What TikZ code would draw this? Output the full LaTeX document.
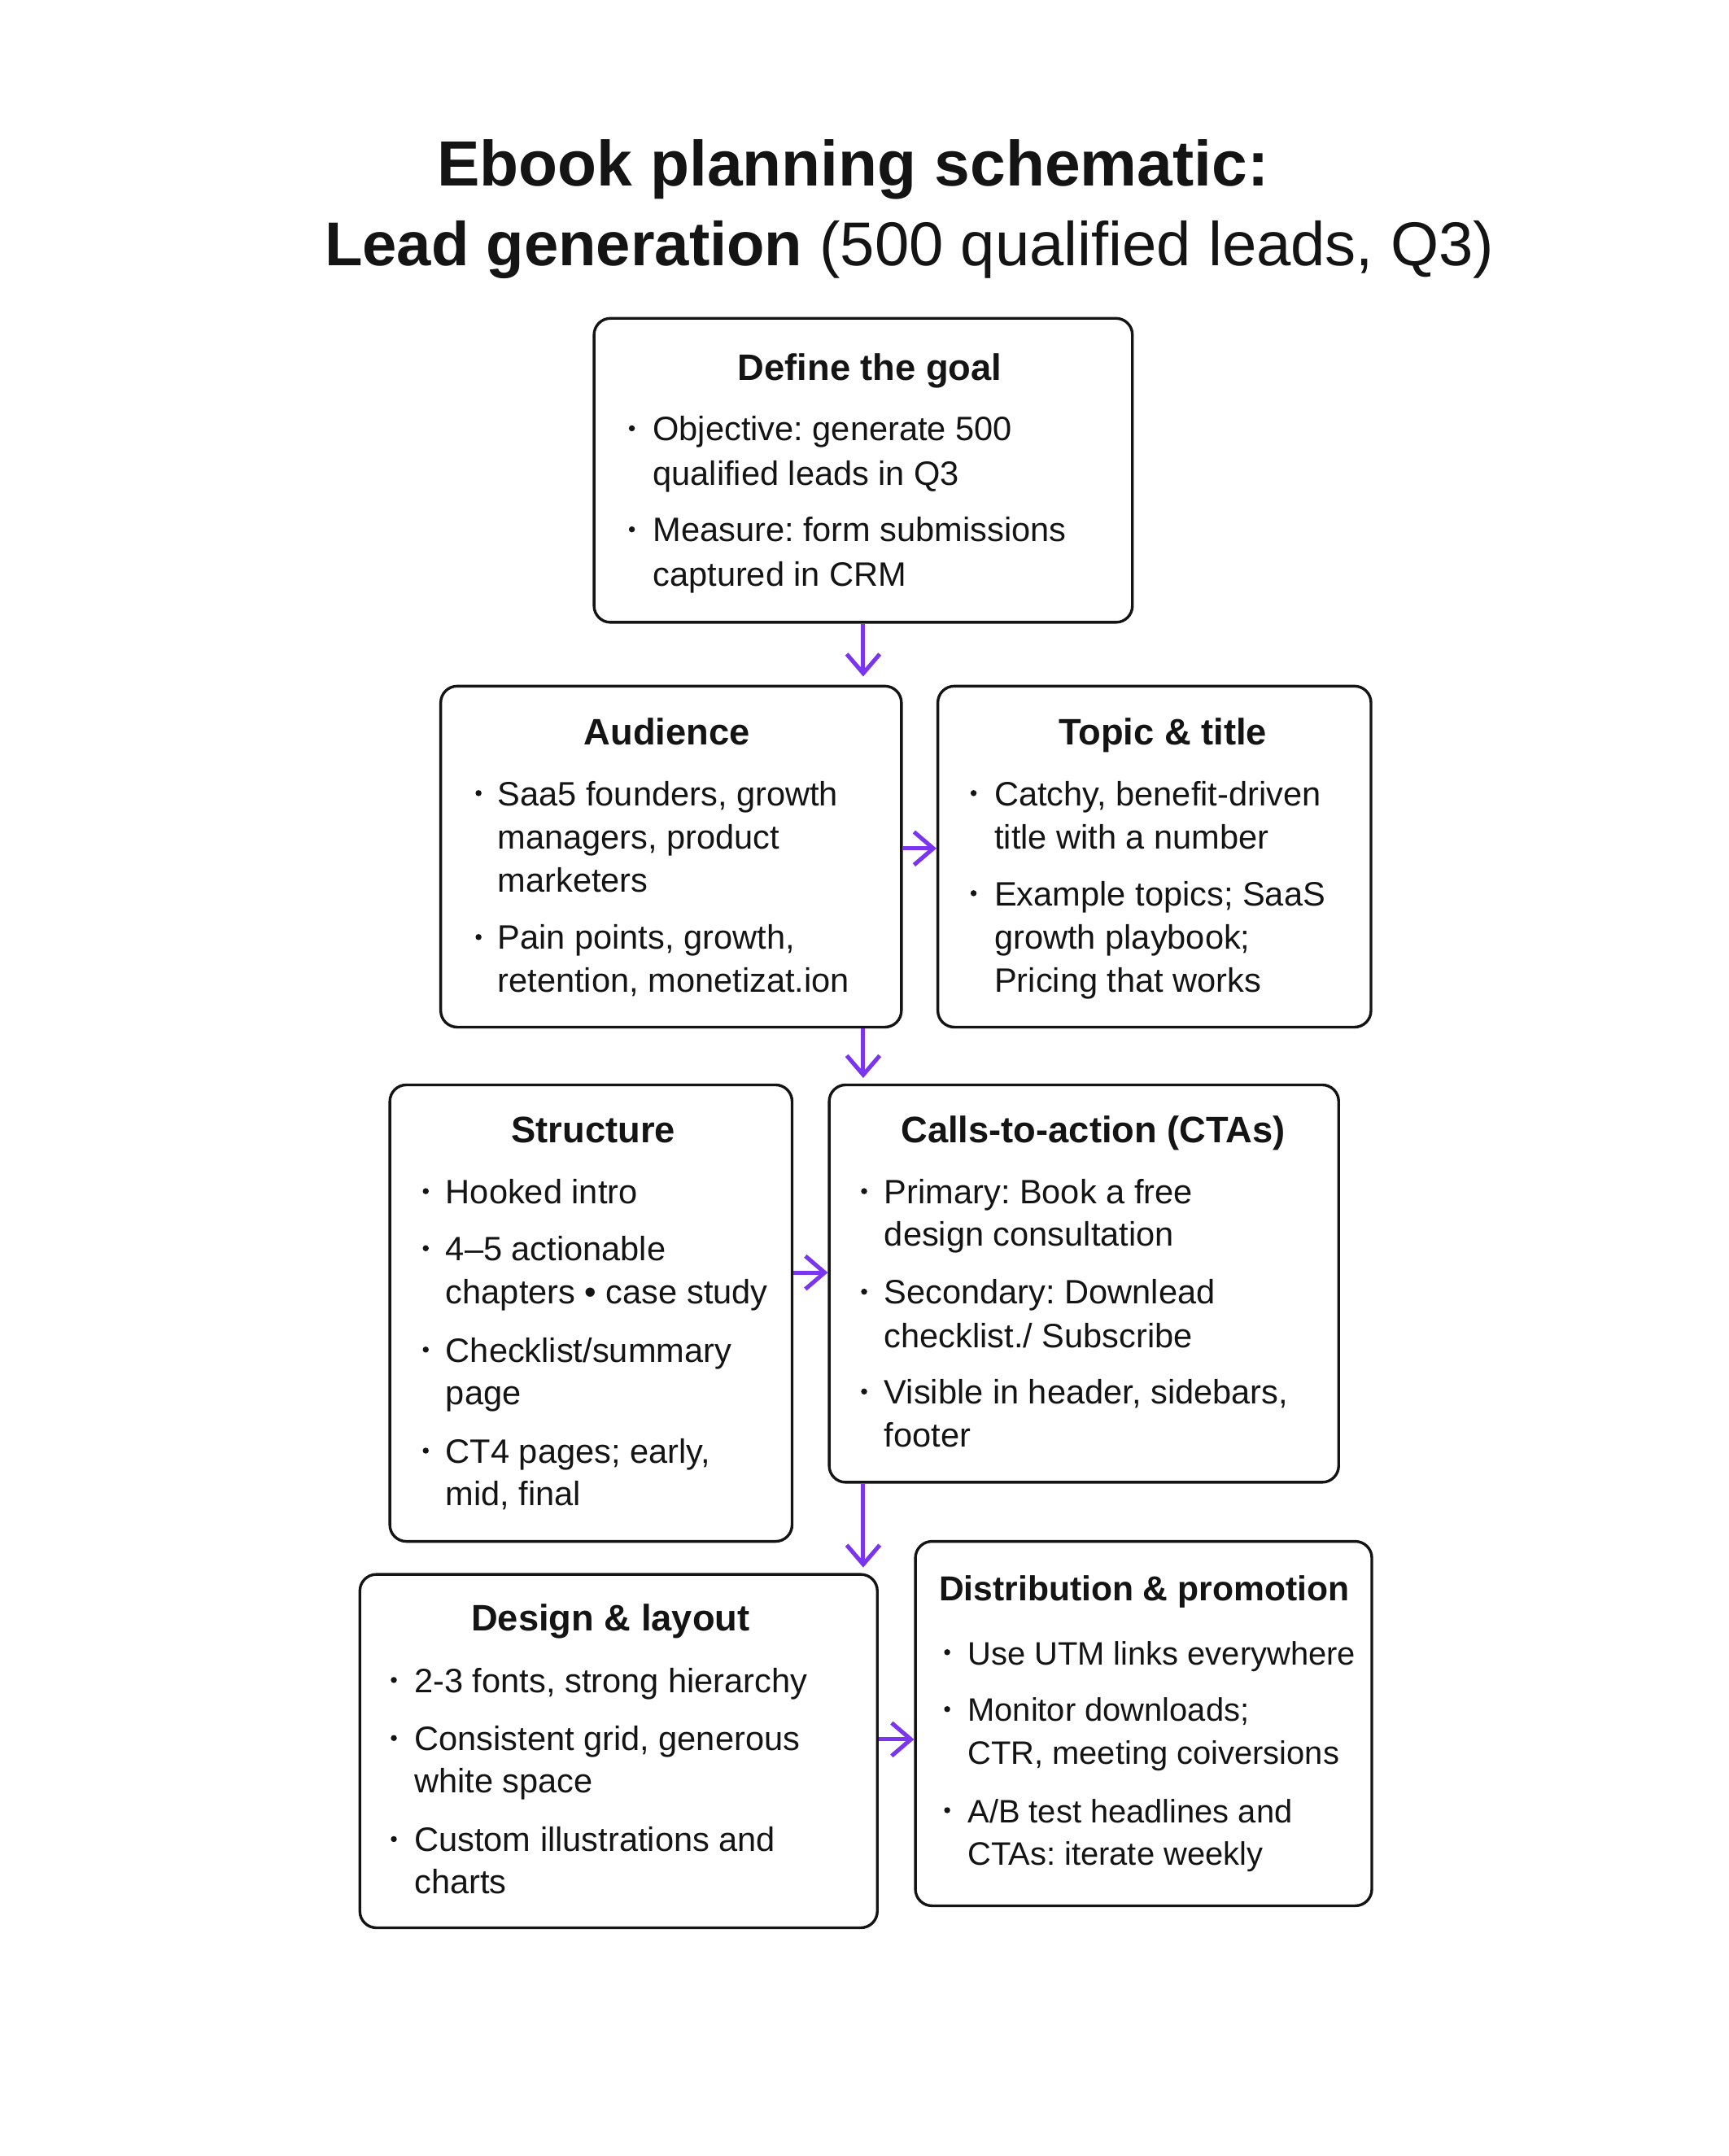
\documentclass[tikz,border=0pt]{standalone}
\usepackage{fontspec}
\setmainfont{Liberation Sans}
\frenchspacing
\usetikzlibrary{arrows.meta,fit}
\definecolor{arrowc}{HTML}{7A35F0}
\definecolor{ink}{HTML}{141414}
\newcommand\bdot[2]{\fill[ink] (#1,#2-9) circle[radius=1.1pt];}
\begin{document}
\begin{tikzpicture}[x=0.5pt,y=-0.5pt,
  box/.style={draw=ink,line width=1pt,rounded corners=6pt,inner sep=0pt},
  txt/.style={anchor=base west,inner sep=0pt,text=ink,font=\fontsize{12.3}{14}\selectfont},
  head/.style={anchor=base,inner sep=0pt,text=ink,font=\fontsize{13.4}{16}\selectfont\bfseries},
  arr/.style={draw=arrowc,line width=1.5pt,-{Straight Barb[length=7pt,width=12pt]}}]
\useasboundingbox[fill=white] (0,0) rectangle (1257,1568);

% title
\node[anchor=base,inner sep=0pt,text=ink,font=\fontsize{23.25}{28}\selectfont\bfseries] (t1) at (620.3,135) {Ebook planning schematic:};
\node[anchor=base,inner sep=0pt,text=ink,font=\fontsize{22.5}{28}\selectfont] (t2) at (661.3,193.3) {\textbf{Lead generation} (500 qualified leads, Q3)};

% boxes
\node[box,fit={(432,231.5) (823.5,452.6)}] (goal) {};
\node[box,fit={(320.5,499) (655.5,747)}] (aud) {};
\node[box,fit={(682,499) (997,747)}] (topic) {};
\node[box,fit={(283.5,789) (576,1121)}] (struct) {};
\node[box,fit={(603,789) (973.5,1078)}] (cta) {};
\node[box,fit={(261.7,1145) (638,1402)}] (design) {};
\node[box,fit={(665.7,1121) (997.6,1386)}] (dist) {};

% Define the goal
\node[head] (gh) at (632.6,276.5) {Define the goal};
\bdot{459.5}{320.5}
\node[txt] (g1) at (474.4,320.5) {Objective: generate 500};
\node[txt] (g2) at (474.4,352.7) {qualified leads in Q3};
\bdot{459.5}{394}
\node[txt] (g3) at (474.4,394) {Measure: form submissions};
\node[txt] (g4) at (474.4,426.4) {captured in CRM};

% Audience
\node[head] (ah) at (485,541.4) {Audience};
\bdot{348}{585.8}
\node[txt] (a1) at (361.5,585.8) {Saa5 founders, growth};
\node[txt] (a2) at (361.5,617.4) {managers, product};
\node[txt] (a3) at (361.5,648.5) {marketers};
\bdot{348}{690.5}
\node[txt] (a4) at (361.5,690.5) {Pain points, growth,};
\node[txt] (a5) at (361.5,721.5) {retention, monetizat.ion};

% Topic & title
\node[head] (th) at (845.6,541.4) {Topic \& title};
\bdot{708}{585.8}
\node[txt] (p1) at (722.8,585.8) {Catchy, benefit-driven};
\node[txt] (p2) at (722.8,617.2) {title with a number};
\bdot{708}{658.6}
\node[txt] (p3) at (722.8,658.6) {Example topics; SaaS};
\node[txt] (p4) at (722.8,690.5) {growth playbook;};
\node[txt] (p5) at (722.8,721.5) {Pricing that works};

% Structure
\node[head] (sh) at (431.5,831) {Structure};
\bdot{309.6}{875.3}
\node[txt] (s1) at (323.8,875.3) {Hooked intro};
\bdot{309.6}{916.8}
\node[txt] (s2) at (323.8,916.8) {4–5 actionable};
\node[txt] (s3) at (323.8,948.4) {chapters • case study};
\bdot{309.6}{990.5}
\node[txt] (s4) at (323.8,990.5) {Checklist/summary};
\node[txt] (s5) at (323.8,1021.5) {page};
\bdot{309.6}{1064}
\node[txt] (s6) at (323.8,1064) {CT4 pages; early,};
\node[txt] (s7) at (323.8,1095) {mid, final};

% CTAs
\node[head] (ch) at (795,831) {Calls-to-action (CTAs)};
\bdot{628.4}{875.3}
\node[txt] (c1) at (642.7,875.3) {Primary: Book a free};
\node[txt] (c2) at (642.7,906) {design consultation};
\bdot{628.4}{948.4}
\node[txt] (c3) at (642.7,948.4) {Secondary: Downlead};
\node[txt] (c4) at (642.7,980) {checklist./ Subscribe};
\bdot{628.4}{1021}
\node[txt] (c5) at (642.7,1021) {Visible in header, sidebars,};
\node[txt] (c6) at (642.7,1052.4) {footer};

% Design & layout
\node[head] (dh) at (444,1186.3) {Design \& layout};
\bdot{286.4}{1230.8}
\node[txt] (d1) at (301,1230.8) {2-3 fonts, strong hierarchy};
\bdot{286.4}{1273}
\node[txt] (d2) at (301,1273) {Consistent grid, generous};
\node[txt] (d3) at (301,1304) {white space};
\bdot{286.4}{1346.5}
\node[txt] (d4) at (301,1346.5) {Custom illustrations and};
\node[txt] (d5) at (301,1377) {charts};

% Distribution & promotion
\tikzset{dtxt/.style={txt,font=\fontsize{11.8}{14}\selectfont}}
\node[head,font=\fontsize{12.6}{15}\selectfont\bfseries] (xh) at (832,1164) {Distribution \& promotion};
\bdot{688.8}{1210.6}
\node[dtxt] (x1) at (703.4,1210.6) {Use UTM links everywhere};
\bdot{688.8}{1252}
\node[dtxt] (x2) at (703.4,1252) {Monitor downloads;};
\node[dtxt] (x3) at (703.4,1283) {CTR, meeting coiversions};
\bdot{688.8}{1325.5}
\node[dtxt] (x4) at (703.4,1325.5) {A/B test headlines and};
\node[dtxt] (x5) at (703.4,1356.5) {CTAs: iterate weekly};

% connectors
\coordinate (r1) at (0,617);
\coordinate (r2) at (0,925.5);
\coordinate (r3) at (0,1265);
\draw[arr,shorten >=3pt] (goal.south) -- (goal.south |- aud.north);
\draw[arr] (aud.east |- r1) -- (topic.west |- r1);
\draw[arr,shorten >=2pt] (aud.south -| goal.south) -- (cta.north -| goal.south);
\draw[arr] (struct.east |- r2) -- (cta.west |- r2);
\draw[arr,shorten >=2pt] (cta.south -| goal.south) -- (design.north -| goal.south);
\draw[arr] (design.east |- r3) -- (dist.west |- r3);
\end{tikzpicture}
\end{document}
